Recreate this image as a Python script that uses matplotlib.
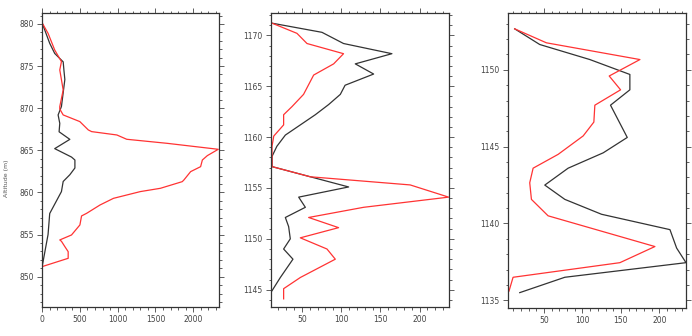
import matplotlib
matplotlib.use("Agg")
import matplotlib.pyplot as plt
from matplotlib.ticker import MultipleLocator

# Panel 1
p1_red_x = [0, 80, 168, 257, 235, 250, 280, 235, 235, 280, 500, 612, 656, 990, 1120, 1654, 2330,
            2186, 2120, 2097, 1965, 1876, 1854, 1565, 1300, 945, 767, 590, 523, 501, 390, 235, 257,
            302, 346, 346, 0]
p1_red_y = [880.16, 878.89, 876.91, 875.53, 874.54, 873.75, 872.16, 870.19, 869.9, 869.2, 868.41,
            867.42, 867.22, 866.82, 866.31, 865.83, 865.12, 864.37, 863.85, 863.06, 862.47, 861.48,
            861.28, 860.49, 860.1, 859.3, 858.51, 857.52, 857.21, 856.14, 854.95, 854.36, 854.2,
            853.57, 852.97, 852.18, 851.19]
p1_blk_x = [0, 102, 168, 280, 290, 302, 257, 213, 235, 226, 368, 168, 390, 435, 435, 368, 280, 257,
            102, 80, 0]
p1_blk_y = [880.16, 877.7, 876.5, 875.5, 874.5, 873.4, 870.2, 869.2, 868.2, 867.2, 866.3, 865.2,
            864.2, 863.85, 862.9, 862.1, 861.3, 860.1, 857.5, 855.0, 851.1]

# Panel 2
p2_blk_x = [11.8, 75.5, 103, 164.7, 118, 141.4, 105, 98.9, 84, 67, 47.9, 28.8, 18, 11.8, 11.8,
            109.5, 45.8, 54.3, 28.8, 33, 35.1, 26.6, 38.5, 22.4, 11.8]
p2_blk_y = [1171.2, 1170.3, 1169.2, 1168.2, 1167.2, 1166.2, 1165.1, 1164.2, 1163.2, 1162.2,
            1161.2, 1160.2, 1159.1, 1158.1, 1157.1, 1155.1, 1154.1, 1153.1, 1152.1, 1151.2,
            1150.0, 1149.0, 1148.0, 1146.2, 1144.9]
p2_red_x = [11.8, 43.6, 56.4, 103, 90.4, 64.9, 52, 37.3, 26.6, 26.6, 14, 11.8, 11.8, 60.6, 188,
            237, 128.6, 58.5, 96.7, 47.9, 81.9, 92.5, 47.9, 26.6, 26.6]
p2_red_y = [1171.2, 1170.2, 1169.2, 1168.2, 1167.2, 1166.1, 1164.2, 1163.0, 1162.2, 1161.2,
            1160.1, 1159.1, 1157.1, 1156.1, 1155.3, 1154.1, 1153.1, 1152.1, 1151.1, 1150.1,
            1149.0, 1148.0, 1146.2, 1145.1, 1144.1]

# Panel 3
p3_blk_x = [11.7, 44.3, 109.6, 161.7, 161.7, 136.5, 158.3, 127, 81.3, 50.9, 77, 124.8, 213.9,
            222.6, 234.8, 77, 18.3]
p3_blk_y = [1152.67, 1151.65, 1150.67, 1149.7, 1148.7, 1147.7, 1145.6, 1144.6, 1143.6, 1142.5,
            1141.57, 1140.6, 1139.6, 1138.4, 1137.45, 1136.5, 1135.5]
p3_red_x = [11.7, 53, 174.8, 134.8, 149.6, 116.1, 114.8, 100.9, 68.3, 35.7, 31.3, 33.5, 55.2,
            194.3, 148.7, 9.6, 4.3]
p3_red_y = [1152.67, 1151.76, 1150.67, 1149.6, 1148.7, 1147.7, 1146.6, 1145.7, 1144.5, 1143.6,
            1142.65, 1141.57, 1140.5, 1138.5, 1137.45, 1136.5, 1135.6]

fig = plt.figure(figsize=(6.92, 3.36), dpi=100)
W, H = 692, 336
boxes = [(42, 13, 219, 307), (271, 13, 449, 307), (508, 13, 686, 308)]
specs = [
    dict(xlim=(0, 2340), ylim=(846.4, 881.3), xmaj=500, xmin=100, ymaj=5, ymin=1),
    dict(xlim=(10.5, 237.5), ylim=(1143.3, 1172.2), xmaj=50, xmin=10, ymaj=5, ymin=1),
    dict(xlim=(3, 234.8), ylim=(1134.5, 1153.7), xmaj=50, xmin=10, ymaj=5, ymin=1),
]
data = [(p1_blk_x, p1_blk_y, p1_red_x, p1_red_y),
        (p2_blk_x, p2_blk_y, p2_red_x, p2_red_y),
        (p3_blk_x, p3_blk_y, p3_red_x, p3_red_y)]

for (l, t, r, b), sp, (bx, by, rx, ry) in zip(boxes, specs, data):
    ax = fig.add_axes([l / W, 1 - b / H, (r - l) / W, (b - t) / H])
    ax.plot(bx, by, color='#333333', lw=0.9)
    ax.plot(rx, ry, color='#ff3333', lw=0.9)
    ax.set_xlim(*sp['xlim'])
    ax.set_ylim(*sp['ylim'])
    ax.xaxis.set_major_locator(MultipleLocator(sp['xmaj']))
    ax.xaxis.set_minor_locator(MultipleLocator(sp['xmin']))
    ax.yaxis.set_major_locator(MultipleLocator(sp['ymaj']))
    ax.yaxis.set_minor_locator(MultipleLocator(sp['ymin']))
    ax.tick_params(which='both', direction='out', top=True, right=True,
                   labelsize=5.5, colors='#444444', width=0.6)
    ax.tick_params(which='major', length=3.5, pad=2.5)
    ax.tick_params(which='minor', length=1.8)
    for s in ax.spines.values():
        s.set_linewidth(0.9)
        s.set_color('#333333')

fig.text(0.006, 0.47, 'Altitude (m)', rotation=90, fontsize=4.5, color='#555555',
         ha='left', va='center')

fig.savefig('out.png', dpi=100)
